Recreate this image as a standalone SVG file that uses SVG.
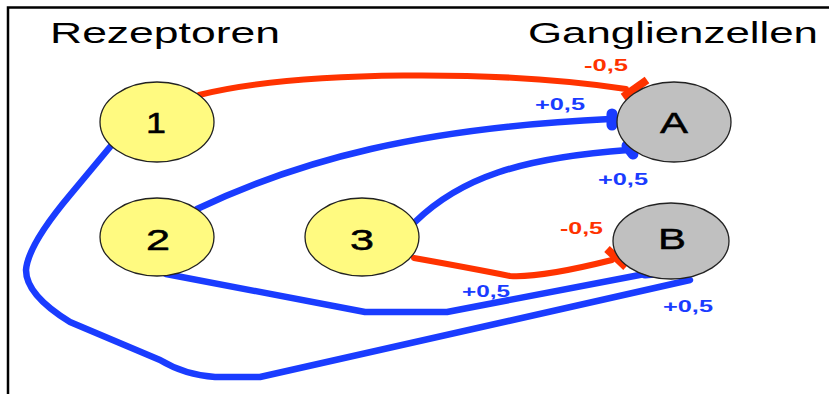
<svg xmlns="http://www.w3.org/2000/svg" width="829" height="394" viewBox="0 0 829 394">
<style>
.frame{stroke:#000;stroke-width:2.5;fill:none}
.title{font-family:"Liberation Sans",Arial,sans-serif;font-size:29px;fill:#000}
.rez{fill:#FFFA80;stroke:#222;stroke-width:1.3}
.gan{fill:#C0C0C0;stroke:#222;stroke-width:1.3}
.nl{font-family:"Liberation Sans",Arial,sans-serif;font-size:30px;fill:#000;text-anchor:middle;stroke:#000;stroke-width:0.5}
.ex{stroke:#1A3CFF;stroke-width:6.5;fill:none;stroke-linejoin:round;stroke-linecap:round}
.in{stroke:#FF3300;stroke-width:6;fill:none;stroke-linejoin:round;stroke-linecap:round}
.exb{stroke:#1A3CFF;stroke-width:11;stroke-linecap:round;fill:none}
.inb{stroke:#FF3300;stroke-width:8;stroke-linecap:butt;fill:none}
.lb{font-family:"Liberation Sans",Arial,sans-serif;font-size:16px;font-weight:bold}
.lbb{fill:#1A3CFF}
.lbr{fill:#FF3300}
</style>
<rect width="829" height="394" fill="#fff"/>
<path class="frame" d="M8,394 L8,7.5 L829,7.5"/>
<text class="title" x="50" y="43" textLength="230" lengthAdjust="spacingAndGlyphs">Rezeptoren</text>
<text class="title" x="528" y="43" textLength="290" lengthAdjust="spacingAndGlyphs">Ganglienzellen</text>
<g id="connectors">
<path class="in" d="M199,95 C300,70 500,70 626,89"/>
<path class="inb" d="M623,97 L647,80"/>
<path class="ex" d="M197,209 C300,160 420,128 610,119"/>
<path class="exb" d="M612,114 L612,125"/>
<path class="ex" d="M415,222 C460,178 520,158 628,150"/>
<path class="exb" d="M627,146 L633,154"/>
<path class="in" d="M414,258 Q470,268 510,276 Q540,278 612,260"/>
<path class="inb" d="M607,249 L626,267"/>
<path class="ex" d="M166,274 L365,312 L447,312 L650,273"/>
<path class="exb" d="M645,273 L657,272"/>
<path class="ex" d="M110,147 L70,195 Q28,245 26,270 Q26,295 70,322 L160,360 Q185,375 215,377 L260,377 L690,280"/>
</g>
<g id="n1"><ellipse class="rez" cx="157" cy="122" rx="57" ry="40"/><text class="nl" x="156" y="133" textLength="20" lengthAdjust="spacingAndGlyphs">1</text></g>
<g id="n2"><ellipse class="rez" cx="157" cy="237" rx="57" ry="39"/><text class="nl" x="158" y="250" textLength="24" lengthAdjust="spacingAndGlyphs">2</text></g>
<g id="n3"><ellipse class="rez" cx="362" cy="237" rx="57" ry="39"/><text class="nl" x="362" y="250" textLength="24" lengthAdjust="spacingAndGlyphs">3</text></g>
<g id="nA"><ellipse class="gan" cx="674" cy="122" rx="57" ry="40"/><text class="nl" x="674" y="133" textLength="28" lengthAdjust="spacingAndGlyphs">A</text></g>
<g id="nB"><ellipse class="gan" cx="671" cy="241" rx="58" ry="38"/><text class="nl" x="672" y="249" textLength="28" lengthAdjust="spacingAndGlyphs">B</text></g>
<g id="labels">
<text class="lb lbr" x="584" y="71" textLength="44" lengthAdjust="spacingAndGlyphs">-0,5</text>
<text class="lb lbb" x="535" y="110" textLength="50" lengthAdjust="spacingAndGlyphs">+0,5</text>
<text class="lb lbb" x="598" y="185" textLength="50" lengthAdjust="spacingAndGlyphs">+0,5</text>
<text class="lb lbr" x="560" y="234" textLength="43" lengthAdjust="spacingAndGlyphs">-0,5</text>
<text class="lb lbb" x="462" y="297" textLength="48" lengthAdjust="spacingAndGlyphs">+0,5</text>
<text class="lb lbb" x="663" y="312" textLength="50" lengthAdjust="spacingAndGlyphs">+0,5</text>
</g>
</svg>
